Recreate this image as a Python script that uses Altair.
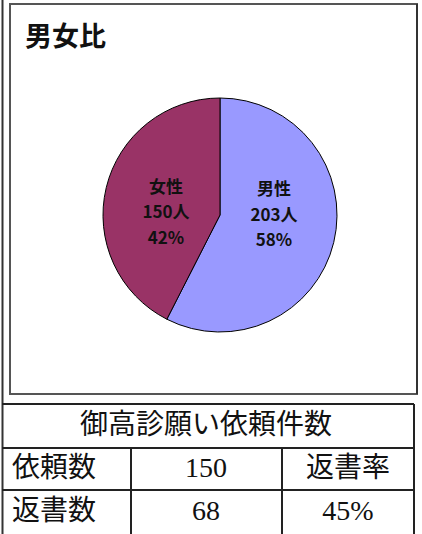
import altair as alt
import pandas as pd

# ---- data ----
title_text = "男女比"
genders = ["男性", "女性"]
counts = [203, 150]
pct_labels = ["58%", "42%"]
slice_colors = ["#9999FF", "#993366"]

table_title = "御高診願い依頼件数"
row1 = ["依頼数", "150", "返書率"]
row2 = ["返書数", "68", "45%"]

# ---- layout ----
W, H = 422, 534
CX, CY, R = 220, 215, 117
JP = "Noto Sans CJK JP"
SERIF = "Liberation Serif, Noto Sans CJK JP"
LINE = "#222222"

pie_df = pd.DataFrame({
    "gender": genders,
    "count": counts,
    "pct": pct_labels,
    "order": list(range(len(genders))),
})
pie_df["label"] = [f"{g}\n{c}人\n{p}" for g, c, p in zip(genders, counts, pct_labels)]

one = pd.DataFrame({"k": [0]})


def base():
    return alt.Chart(one)


def hline(x1, x2, y, color=LINE, w=2):
    return base().mark_rule(color=color, strokeWidth=w).encode(
        x=alt.value(x1), x2=alt.value(x2), y=alt.value(y))


def vline(x, y1, y2, color=LINE, w=2):
    return base().mark_rule(color=color, strokeWidth=w).encode(
        x=alt.value(x), y=alt.value(y1), y2=alt.value(y2))


def label(text, x, y, size, font=JP, align="center", weight="normal", color="#111111"):
    return base().mark_text(text=text, font=font, fontSize=size, align=align,
                            baseline="middle", fontWeight=weight, color=color).encode(
        x=alt.value(x), y=alt.value(y))


layers = []

# chart frame
layers.append(base().mark_rect(fill="white", stroke="#555555", strokeWidth=2).encode(
    x=alt.value(10), x2=alt.value(417), y=alt.value(4), y2=alt.value(394)))
layers.append(vline(417, 4, 394, color="#333333", w=2))

# title
layers.append(label(title_text, 25, 38, 27, align="left", weight="bold"))

# pie
pie = alt.Chart(pie_df).mark_arc(radius=R, stroke="black", strokeWidth=1).encode(
    theta=alt.Theta("count:Q", stack=True),
    order=alt.Order("order:Q"),
    color=alt.Color("gender:N", scale=alt.Scale(domain=genders, range=slice_colors), legend=None),
    x=alt.value(CX), y=alt.value(CY),
)
layers.append(pie)

pie_labels = alt.Chart(pie_df).mark_text(
    radius=54, thetaOffset=-0.21, dy=-26, lineBreak="\n", lineHeight=25.5, fontSize=17,
    font=JP, fontWeight="bold", color="#111111", align="center", baseline="middle",
).encode(
    theta=alt.Theta("count:Q", stack=True),
    order=alt.Order("order:Q"),
    text="label:N",
    x=alt.value(CX), y=alt.value(CY),
)
layers.append(pie_labels)

# outer left line
layers.append(vline(2.5, 0, H, color="#333333", w=2))

# table lines
layers.append(hline(2, 414, 404))
layers.append(hline(2, 414, 448))
layers.append(hline(2, 414, 490))
layers.append(vline(414, 404, H))
layers.append(vline(131, 448, H))
layers.append(vline(282, 448, H))

# table text
layers.append(label(table_title, 206, 426, 28, font=SERIF))
col_x = [12, 206, 348]
col_align = ["left", "center", "center"]
for row, y in ((row1, 469), (row2, 512)):
    for txt, x, a in zip(row, col_x, col_align):
        layers.append(label(txt, x, y, 28, font=SERIF, align=a))

chart = alt.layer(*layers).properties(
    width=W, height=H, padding=0, autosize=alt.AutoSizeParams(type="none"),
    background="white",
).configure_view(stroke=None)

chart.save("out.html", embed_options={"renderer": "svg", "actions": False})
